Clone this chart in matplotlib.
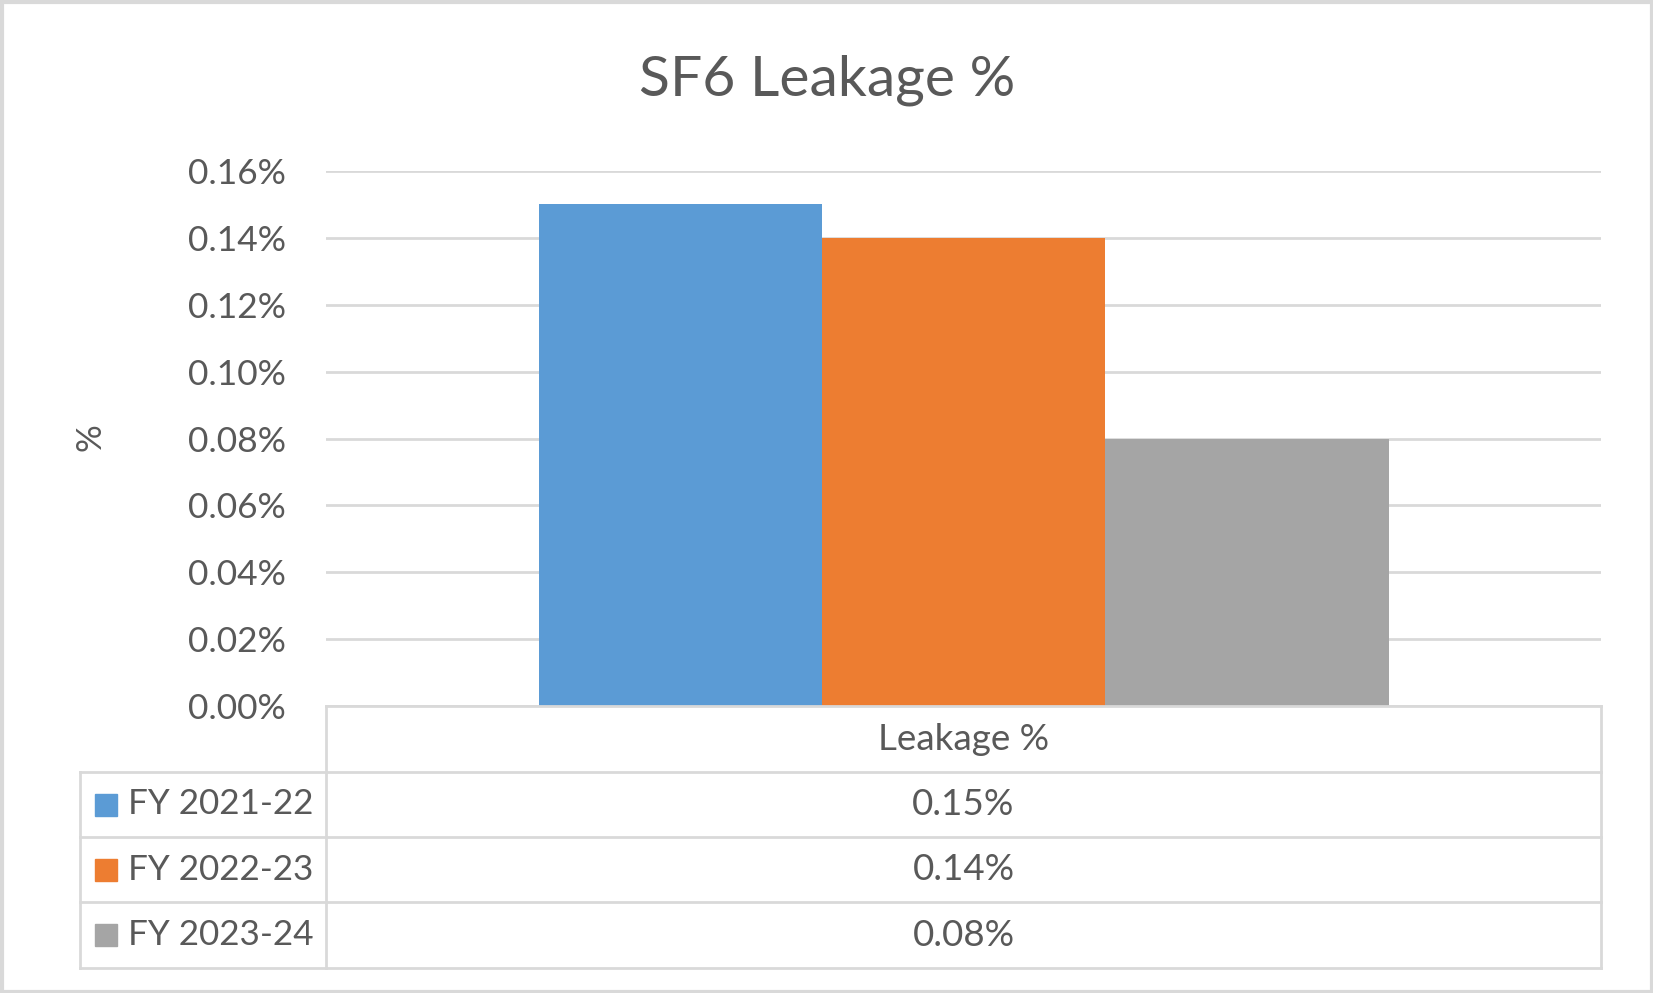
import matplotlib
matplotlib.use("Agg")
import matplotlib.pyplot as plt
from matplotlib.patches import Rectangle

plt.rcParams['font.family'] = ['Lato', 'DejaVu Sans']

title = "SF6 Leakage %"
category = "Leakage %"
series = ["FY 2021-22", "FY 2022-23", "FY 2023-24"]
values = [0.15, 0.14, 0.08]
colors = ["#5B9BD5", "#ED7D31", "#A5A5A5"]
yticks = [0.00, 0.02, 0.04, 0.06, 0.08, 0.10, 0.12, 0.14, 0.16]

W, H = 1653, 993
DPI = 100
TXT = "#595959"
GRID = "#D9D9D9"

fig = plt.figure(figsize=(W / DPI, H / DPI), dpi=DPI)

# plot area in pixel coordinates
px_left, px_right, px_top, px_bottom = 326, 1601, 171, 706
ax = fig.add_axes([px_left / W, 1 - px_bottom / H, (px_right - px_left) / W, (px_bottom - px_top) / H])
ax.set_xlim(-0.5, 0.5)
ax.set_ylim(0, 0.16)

n = len(series)
total = 1 / 1.5  # gap width 75% on each side
bw = total / n
for i, (v, c) in enumerate(zip(values, colors)):
    x = -total / 2 + bw * (i + 0.5)
    ax.bar(x, v, width=bw, color=c, zorder=3, edgecolor='none')

ax.set_yticks(yticks)
ax.set_yticklabels([f"{t:.2f}%" for t in yticks], fontsize=25.5, color=TXT)
ax.tick_params(axis='y', length=0, pad=29)
ax.set_xticks([])
ax.yaxis.grid(True, color=GRID, linewidth=2, zorder=0)
for s in ax.spines.values():
    s.set_visible(False)
ax.set_axisbelow(True)

fig.text(90 / W, 1 - 437 / H, "%", rotation=90, fontsize=25, color=TXT, ha='center', va='center')
fig.text(827 / W, 1 - 80 / H, title, fontsize=41, color=TXT, ha='center', va='center')

# table / legend overlay in pixel coordinates
tax = fig.add_axes([0, 0, 1, 1])
tax.set_xlim(0, W)
tax.set_ylim(H, 0)
tax.axis('off')

row_edges = [706, 772, 837, 902, 968]
leg_left = 80
lw = 2
tax.plot([px_left, px_right], [row_edges[0], row_edges[0]], color=GRID, lw=lw)
for y in row_edges[1:]:
    tax.plot([leg_left, px_right], [y, y], color=GRID, lw=lw)
tax.plot([px_left, px_left], [row_edges[0], row_edges[-1]], color=GRID, lw=lw)
tax.plot([px_right, px_right], [row_edges[0], row_edges[-1]], color=GRID, lw=lw)
tax.plot([leg_left, leg_left], [row_edges[1], row_edges[-1]], color=GRID, lw=lw)

cx = (px_left + px_right) / 2
tax.text(cx, (row_edges[0] + row_edges[1]) / 2 + 1, category, fontsize=26.5, color=TXT, ha='center', va='center')
for i, (s, v, c) in enumerate(zip(series, values, colors)):
    yc = (row_edges[i + 1] + row_edges[i + 2]) / 2
    tax.add_patch(Rectangle((95, yc - 11), 22, 22, color=c))
    tax.text(128, yc, s, fontsize=25.3, color=TXT, ha='left', va='center')
    tax.text(cx, yc, f"{v:.2f}%", fontsize=26.5, color=TXT, ha='center', va='center')

# outer border
tax.add_patch(Rectangle((1.5, 1.5), W - 3, H - 3, fill=False, edgecolor=GRID, lw=3))

fig.savefig("out.png", dpi=DPI)
